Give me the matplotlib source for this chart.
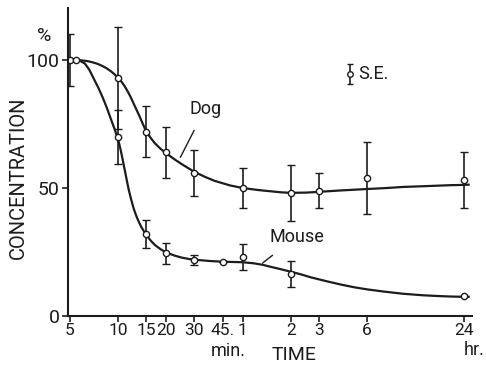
import matplotlib
matplotlib.use("Agg")
import matplotlib.pyplot as plt
import numpy as np

plt.rcParams['font.family'] = ['Roboto', 'DejaVu Sans']

# time in minutes (log axis), concentration in %
dog_t = [5, 10, 15, 20, 30, 60, 120, 180, 360, 1440]
dog_v = [100, 93, 72, 64, 56, 50, 48, 49, 54, 53]
dog_se = [10, 20, 10, 10, 9, 8, 11, 7, 14, 11]

mouse_t = [5.45, 10, 15, 20, 30, 45, 60, 120, 1440]
mouse_v = [100, 70, 32, 24.5, 22, 21, 23, 16.4, 8]
mouse_se = [0, 10.5, 5.5, 4, 2, 0, 5, 5, 0]

# fitted curves
dog_curve_t = [5.45, 6, 6.5, 7, 7.5, 8, 8.5, 9, 9.5, 10, 10.5, 11, 11.5, 12, 12.7,
               13.5, 14.2, 15, 16, 17, 18.5, 20, 22.5, 25, 27.5, 30, 35, 40, 50, 60,
               75, 90, 105, 120, 150, 180, 240, 360, 480, 600, 900, 1200, 1440, 1550]
dog_curve_v = [100, 99.8, 99.5, 99.0, 98.4, 97.6, 96.7, 95.6, 94.4, 93, 91.5, 89.7,
               87.6, 85.4, 82.0, 78.5, 75.3, 72, 69.5, 67.4, 65.2, 63.5, 61.2, 59.3,
               57.7, 56.3, 54.3, 52.8, 51.0, 50.0, 49.2, 48.7, 48.3, 48.1, 48.2, 48.5,
               49.0, 49.6, 50.0, 50.4, 50.8, 51.1, 51.2, 51.3]
mouse_curve_t = [5.45, 5.8, 6.2, 6.6, 7, 7.5, 8, 8.5, 9, 9.5, 10, 10.4, 10.8, 11.2,
                 11.6, 12, 12.5, 13, 13.5, 14, 15, 16, 17, 18.5, 20, 22.5, 25, 27.5,
                 30, 37, 45, 52, 60, 70, 80, 90, 105, 120, 140, 160, 200, 250, 300,
                 360, 450, 600, 800, 1000, 1200, 1440, 1550]
mouse_curve_v = [100, 99.6, 98.6, 96.2, 93, 89.3, 85.4, 81.3, 77.0, 73.0, 69, 64.5,
                 59.5, 54.5, 49.8, 46, 42, 39, 36.6, 34.6, 31.6, 29.4, 27.7, 26.0,
                 24.8, 23.6, 22.8, 22.3, 22.0, 21.5, 21.2, 21.1, 21.0, 20.6, 20.0,
                 19.2, 18.2, 17.3, 16.2, 15.1, 13.6, 12.2, 11.2, 10.4, 9.6, 8.7,
                 8.1, 7.8, 7.6, 7.5, 7.5]

tick_pos = [5, 10, 15, 20, 30, 45, 60, 120, 180, 360, 1440]
tick_lab = ['5', '10', '15', '20', '30', '45.', '1', '2', '3', '6', '24']

ink = '#1c1c1c'
W, H = 486, 366
fig = plt.figure(figsize=(W / 100, H / 100), dpi=100)
ax = fig.add_axes([68 / W, 1 - 316 / H, (472 - 68) / W, (316 - 8) / H])

ax.plot(dog_curve_t, dog_curve_v, color=ink, lw=1.6)
ax.plot(mouse_curve_t, mouse_curve_v, color=ink, lw=1.6)

ax.errorbar(dog_t, dog_v, yerr=dog_se, fmt='o', color=ink, mfc='white', mec=ink,
            ms=4.5, mew=1.0, elinewidth=1.2, capsize=2.8, capthick=1.2)
ax.errorbar(mouse_t, mouse_v, yerr=mouse_se, fmt='o', color=ink, mfc='white', mec=ink,
            ms=4.5, mew=1.0, elinewidth=1.2, capsize=2.8, capthick=1.2)

# S.E. key
ax.errorbar([281], [94.5], yerr=[4], fmt='o', color=ink, mfc='white', mec=ink,
            ms=4, mew=1.0, elinewidth=1.2, capsize=2.2, capthick=1.2)
ax.text(316, 94.5, 'S.E.', fontsize=13, color=ink, va='center', ha='left')

# curve labels with pointer lines
ax.annotate('Dog', xy=(24.5, 62), xytext=(35, 81), fontsize=13, color=ink,
            ha='center', va='center',
            arrowprops=dict(arrowstyle='-', color=ink, lw=1.0, shrinkA=8, shrinkB=0))
ax.annotate('Mouse', xy=(80, 20.7), xytext=(130, 31), fontsize=13, color=ink,
            ha='center', va='center',
            arrowprops=dict(arrowstyle='-', color=ink, lw=1.0, shrinkA=8, shrinkB=0))

ax.set_xscale('log')
ax.set_xlim(4.86, 1627)
ax.set_ylim(0, 120.3)
ax.set_xticks(tick_pos)
ax.set_xticklabels(tick_lab)
ax.xaxis.set_minor_locator(matplotlib.ticker.NullLocator())
ax.set_yticks([0, 50, 100])
ax.set_yticklabels(['0', '50', '100'])
ax.tick_params(axis='x', labelsize=12.5, colors=ink, length=4, width=1.2, pad=1)
ax.tick_params(axis='y', labelsize=14, colors=ink, length=4, width=1.2, pad=2)

for s in ['top', 'right']:
    ax.spines[s].set_visible(False)
for s in ['left', 'bottom']:
    ax.spines[s].set_color(ink)
    ax.spines[s].set_linewidth(1.5)

fig.text(44 / W, 1 - 36 / H, '%', fontsize=14, color=ink, ha='center', va='center')
fig.text(18 / W, 1 - 178 / H, 'CONCENTRATION', fontsize=14.5, color=ink,
         rotation=90, ha='center', va='center')
fig.text(228 / W, 1 - 351 / H, 'min.', fontsize=13, color=ink, ha='center', va='center')
fig.text(294 / W, 1 - 355 / H, 'TIME', fontsize=14, color=ink, ha='center', va='center')
fig.text(474 / W, 1 - 350 / H, 'hr.', fontsize=13, color=ink, ha='center', va='center')

fig.savefig('out.png', dpi=100)
